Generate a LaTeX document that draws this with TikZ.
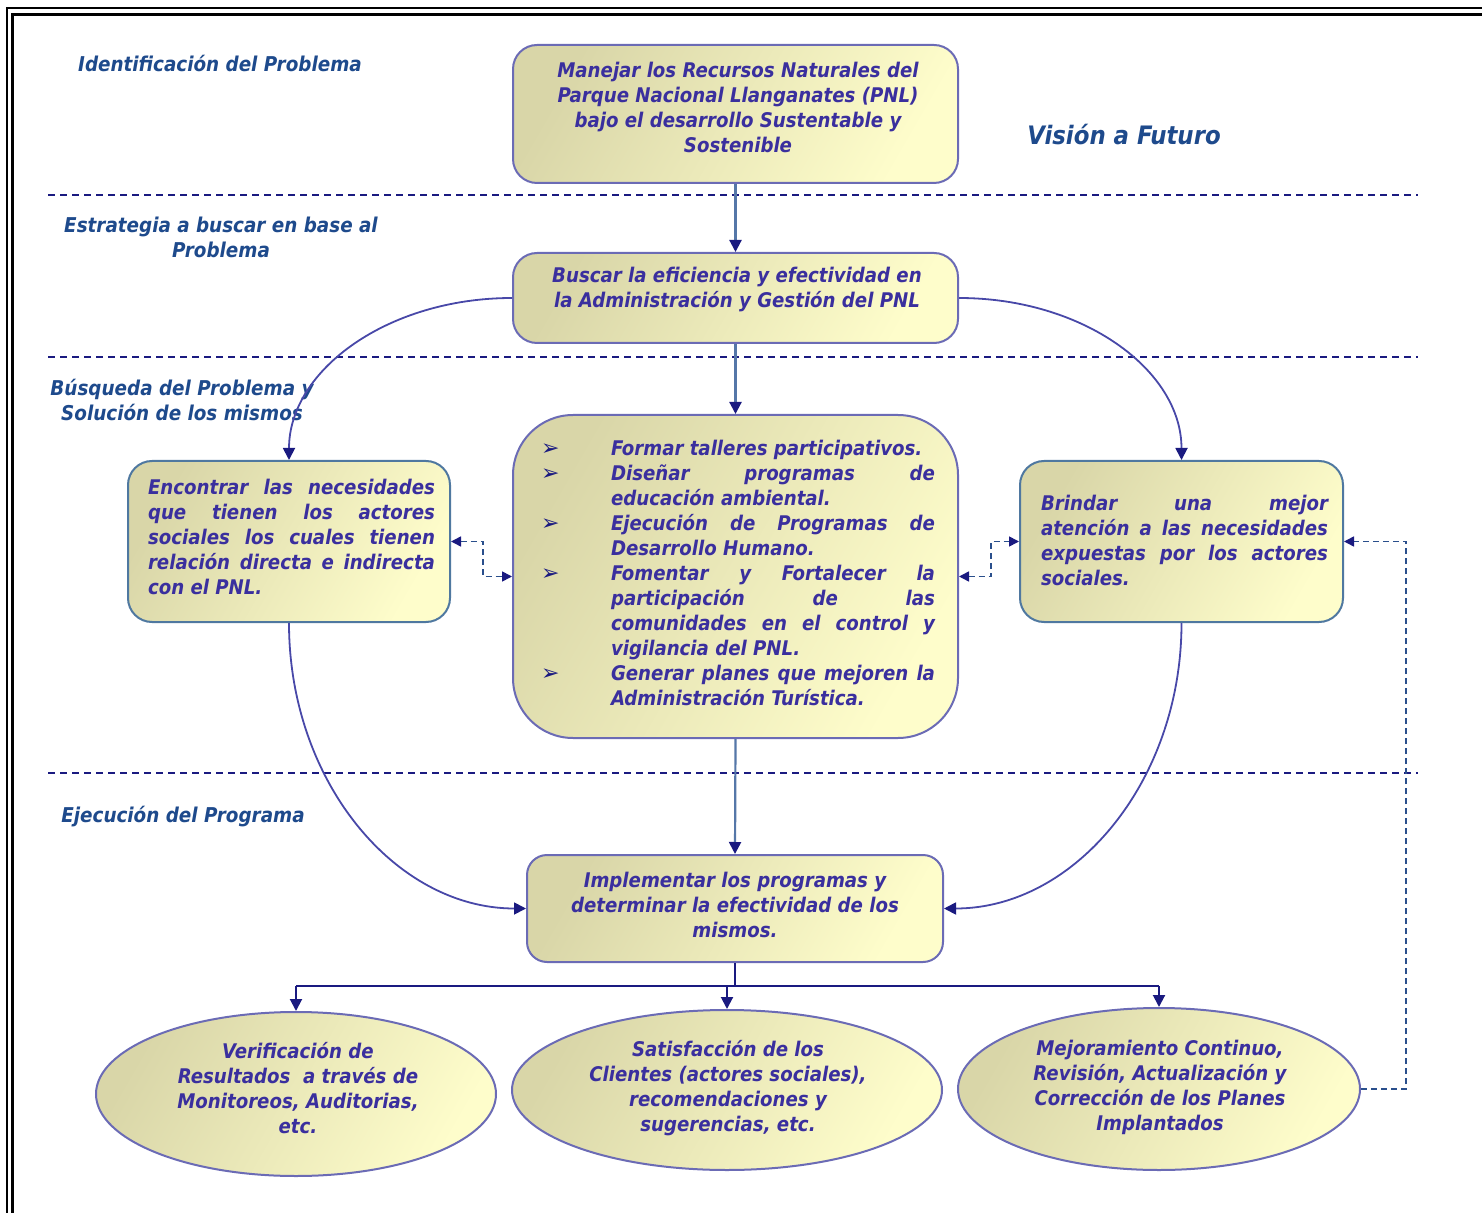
\documentclass[tikz,border=0pt]{standalone}
\usepackage{fontspec}
\usetikzlibrary{arrows.meta,shapes.geometric,calc}
\newfontfamily\tf{DejaVu Sans Condensed Bold Oblique}
\newfontfamily\symf{DejaVu Sans}
\definecolor{txt}{HTML}{3A2F9E}
\definecolor{lab}{HTML}{1E4A8C}
\definecolor{navy}{HTML}{1A1A80}
\definecolor{bord}{HTML}{6B6BB5}
\definecolor{bordb}{HTML}{4F78A0}
\definecolor{darkf}{HTML}{D9D6A8}
\definecolor{lightf}{HTML}{FEFDCB}
\definecolor{curv}{HTML}{4848A8}
\definecolor{vline}{HTML}{5577A8}
\definecolor{dcol}{HTML}{2A4F8C}
\newcommand\JL[2]{\hbox to #1{#2}}
\newcommand\LL[2]{\hbox to #1{#2\hfil}}
\newcommand\bul{{\symf\fontsize{11}{11}\selectfont\color{navy}➢}}
\newcommand\BL[1]{\hbox{\hbox to 31.5pt{\hspace{-3.5pt}\bul\hfil}#1}}
\newcommand\NL[1]{\hbox{\hbox to 31.5pt{}#1}}
\tikzset{
  box/.style={draw=bord, line width=1pt, rounded corners=12pt, left color=darkf, right color=lightf, shading angle=60, inner sep=0pt},
  boxb/.style={box, draw=bordb},
  ell/.style={ellipse, draw=bord, line width=1pt, left color=darkf, right color=lightf, shading angle=60, inner sep=0pt},
  txtn/.style={text=txt, font=\tf\fontsize{10.1}{12.5}\selectfont, align=center, inner sep=0pt},
  labn/.style={text=lab, font=\tf\fontsize{10.2}{12.5}\selectfont, align=center, inner sep=0pt},
  tip/.style={-{Triangle[length=6pt,width=6pt,color=navy]}},
  varr/.style={tip, draw=vline, line width=1.1pt},
  carr/.style={tip, draw=curv, line width=0.9pt},
  bus/.style={draw=navy, line width=1pt},
  sep/.style={draw=navy, line width=0.9pt, dash pattern=on 3.5pt off 2.5pt},
  dconn/.style={draw=dcol, line width=0.8pt, dash pattern=on 3pt off 2pt},
  stip/.style={{Triangle[length=5pt,width=5pt,color=navy]}-{Triangle[length=5pt,width=5pt,color=navy]}},
  rtip/.style={-{Triangle[length=5pt,width=5pt,color=navy]}}
}
\begin{document}
\begin{tikzpicture}[x=0.5pt,y=-0.5pt]
\useasboundingbox (0,0) rectangle (1482,1213);
\begin{scope}
\clip (0,0) rectangle (1482,1213);
\draw[line width=1pt] (7,8.5) rectangle (1500,1230);
\draw[line width=1.75pt] (12.5,14.5) rectangle (1500,1230);
\end{scope}

% separators
\draw[sep] (48,195) -- (1418,195);
\draw[sep] (48,357) -- (1418,357);
\draw[sep] (48,773) -- (1418,773);

% labels
\node[labn] (l1) at (220,63) {Identificación del Problema};
\node[labn] (l2) at (221,237.5) {Estrategia a buscar en base al\\Problema};
\node[labn] (l3) at (182,399.5) {Búsqueda del Problema y\\Solución de los mismos};
\node[labn] (l4) at (183,817) {Ejecución del Programa};
\node[labn, font=\tf\fontsize{12.7}{14}\selectfont] (l5) at (1124,135) {Visión a Futuro};

% boxes
\node[box, minimum width=222.5pt, minimum height=69pt] (B1) at (735.5,114) {};
\node[box, minimum width=222.5pt, minimum height=45pt] (B2) at (735.5,298) {};
\node[box, rounded corners=30pt, minimum width=222.5pt, minimum height=161.5pt] (B3) at (735.5,576.5) {};
\node[boxb, minimum width=161pt, minimum height=80.5pt] (L) at (289,541.5) {};
\node[boxb, minimum width=161.5pt, minimum height=80.5pt] (R) at (1181.5,541.5) {};
\node[box, rounded corners=10pt, minimum width=208pt, minimum height=53.5pt] (I) at (735,908.5) {};
\node[ell, minimum width=200pt, minimum height=82pt] (E1) at (296,1094) {};
\node[ell, minimum width=215pt, minimum height=80pt] (E2) at (727,1090) {};
\node[ell, minimum width=201pt, minimum height=81pt] (E3) at (1159,1089) {};

% texts
\node[txtn] (t1) at (738,107.5) {Manejar los Recursos Naturales del\\Parque Nacional Llanganates (PNL)\\bajo el desarrollo Sustentable y\\Sostenible};
\node[txtn] (t2) at (737,289.5) {Buscar la eficiencia y efectividad en\\la Administración y Gestión del PNL};
\node[txtn] (t3) at (741.5,573) {\vbox{%
\BL{\LL{162pt}{Formar talleres participativos.}}
\BL{\JL{162pt}{Diseñar programas de}}
\NL{\LL{162pt}{educación ambiental.}}
\BL{\JL{162pt}{Ejecución de Programas de}}
\NL{\LL{162pt}{Desarrollo Humano.}}
\BL{\JL{162pt}{Fomentar y Fortalecer la}}
\NL{\JL{162pt}{participación de las}}
\NL{\JL{162pt}{comunidades en el control y}}
\NL{\LL{162pt}{vigilancia del PNL.}}
\BL{\JL{162pt}{Generar planes que mejoren la}}
\NL{\LL{162pt}{Administración Turística.}}}};
\node[txtn] (tL) at (291.5,537) {\vbox{%
\JL{143.5pt}{Encontrar las necesidades}
\JL{143.5pt}{que tienen los actores}
\JL{143.5pt}{sociales los cuales tienen}
\JL{143.5pt}{relación directa e indirecta}
\LL{143.5pt}{con el PNL.}}};
\node[txtn] (tR) at (1184.5,540) {\vbox{%
\JL{143.5pt}{Brindar una mejor}
\JL{143.5pt}{atención a las necesidades}
\JL{143.5pt}{expuestas por los actores}
\LL{143.5pt}{sociales.}}};
\node[txtn] (tI) at (735,905) {Implementar los programas y\\determinar la efectividad de los\\mismos.};
\node[txtn] (tE1) at (298,1088.5) {Verificación de\\Resultados\ \ a través de\\Monitoreos, Auditorias,\\etc.};
\node[txtn] (tE2) at (728,1088) {Satisfacción de los\\Clientes (actores sociales),\\recomendaciones y\\sugerencias, etc.};
\node[txtn] (tE3) at (1160,1087.5) {Mejoramiento Continuo,\\Revisión, Actualización y\\Corrección de los Planes\\Implantados};

% vertical connectors
\draw[varr] (B1.south) -- (B2.north);
\draw[varr] (B2.south) -- (B3.north);
\draw[varr] (B3.south) -- (I.north);

% curves
\draw[carr] (B2.west) .. controls ($(B2.west)+(-124,0)$) and ($(L.north)+(0,-90)$) .. (L.north);
\draw[carr] (B2.east) .. controls ($(B2.east)+(124,0)$) and ($(R.north)+(0,-90)$) .. (R.north);
\draw[carr] (L.south) .. controls ($(L.south)+(0,158)$) and ($(I.west)+(-131,0)$) .. (I.west);
\draw[carr] (R.south) .. controls ($(R.south)+(0,158)$) and ($(I.east)+(131,0)$) .. (I.east);

% bus
\draw[bus] (I.south) -- ++(0,23) coordinate (bj);
\draw[bus] (E1.north |- bj) -- (E3.north |- bj);
\draw[bus, tip] (E1.north |- bj) -- (E1.north);
\draw[bus, tip] (E2.north |- bj) -- (E2.north);
\draw[bus, tip] (E3.north |- bj) -- (E3.north);

% dashed feedback
\draw[dconn, stip] (L.east) -- ++(32,0) |- (B3.west);
\draw[dconn, stip] (B3.east) -- ++(32,0) |- (R.west);
\draw[dconn, rtip] (E3.east) -- ++(45,0) |- (R.east);
\end{tikzpicture}
\end{document}
